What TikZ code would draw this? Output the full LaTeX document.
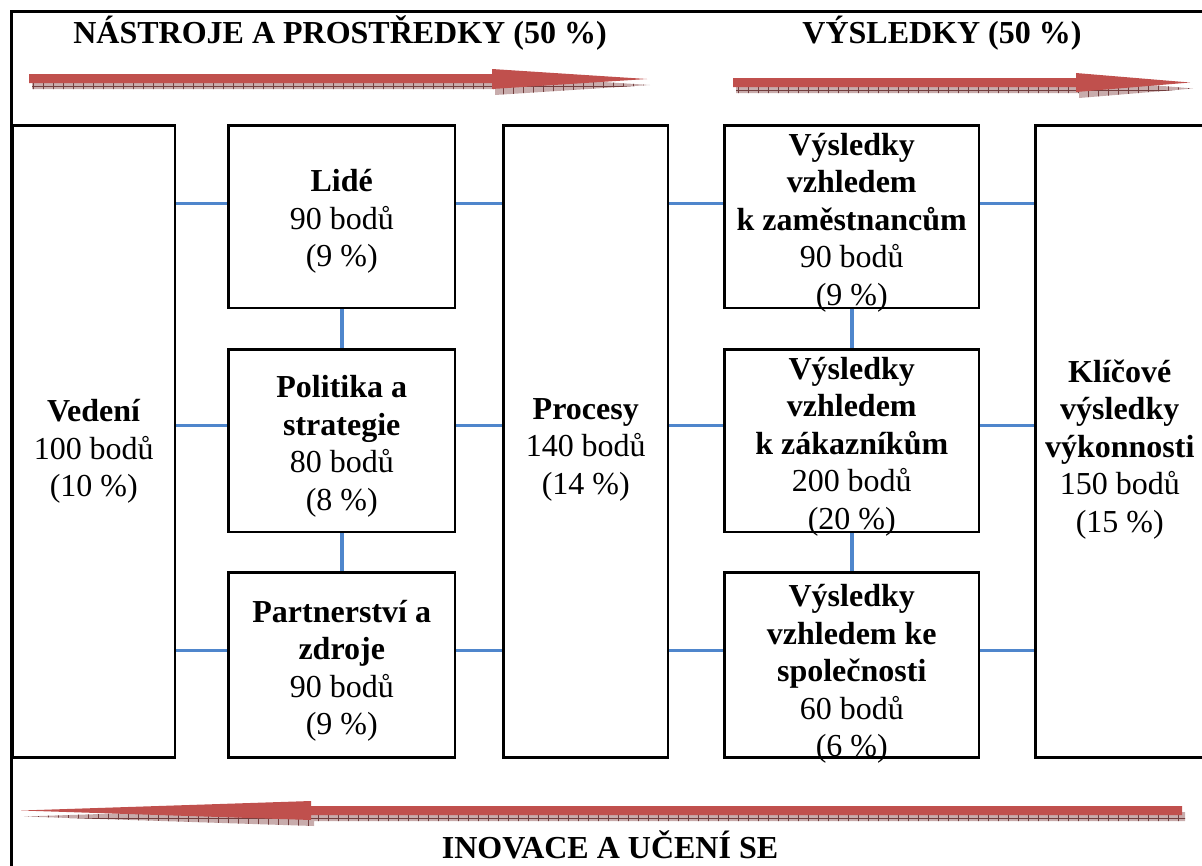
\documentclass[tikz,border=0pt]{standalone}
\usepackage{fontspec}
\setmainfont{Liberation Serif}
\definecolor{arrowred}{RGB}{192,80,77}
\definecolor{shadowfill}{RGB}{200,172,172}
\definecolor{shadowtick}{RGB}{115,62,62}
\definecolor{linkblue}{RGB}{79,134,204}
\tikzset{
  box/.style={draw, line width=2.5pt, outer sep=0pt, inner sep=0pt},
  boxtext/.style={inner sep=0pt, align=center, font=\fontsize{32}{37.5}\selectfont},
  heading/.style={inner sep=0pt, anchor=base, font=\fontsize{32}{37.5}\selectfont\bfseries},
  link/.style={draw=linkblue, line width=3.5pt, shorten <=1.2pt, shorten >=1.2pt},
  frame/.style={line width=3pt},
  arrowbody/.style={fill=arrowred},
  tickline/.style={draw=shadowtick, line width=0.8pt},
  % outlines of the three wide arrows
  arrowA/.style={insert path={(29,74) -- (492,74) -- (492,69) -- (647,79) -- (492,89) -- (492,83) -- (29,83) -- cycle}},
  arrowB/.style={insert path={(733,78) -- (1076,78) -- (1076,73) -- (1190,82.5) -- (1076,92) -- (1076,87) -- (733,87) -- cycle}},
  arrowC/.style={insert path={(1182,806) -- (311,806) -- (311,801) -- (21,810.5) -- (311,820) -- (311,815) -- (1182,815) -- cycle}},
}
\begin{document}
\begin{tikzpicture}[x=1pt,y=-1pt]
\useasboundingbox (0,0) rectangle (1202,865);
\clip (0,0) rectangle (1202,865);

% outer frame
\draw[frame] (11.5,11.5) rectangle (1204,880);

% headings
\node[heading] (hA) at (340,43.5) {NÁSTROJE A PROSTŘEDKY (50 \%)};
\node[heading] (hB) at (942,43.5) {VÝSLEDKY (50 \%)};
\node[heading] (hC) at (610,858) {INOVACE A UČENÍ SE};

% arrow shadows: hatched band with ruler ticks
\begin{scope}[shift={(3,6)}]
  \begin{scope}
    \clip[arrowA];
    \fill[shadowfill] (0,40) rectangle (700,110);
    \foreach \x in {30,40,...,650} \draw[tickline] (\x,60) -- (\x,100);
    \draw[tickline] (29,80.5) -- (650,80.5);
  \end{scope}
  \begin{scope}
    \clip[arrowB];
    \fill[shadowfill] (700,40) rectangle (1202,110);
    \foreach \x in {735,745,...,1195} \draw[tickline] (\x,60) -- (\x,100);
    \draw[tickline] (733,84.5) -- (1195,84.5);
  \end{scope}
  \begin{scope}
    \clip[arrowC];
    \fill[shadowfill] (0,780) rectangle (1202,840);
    \foreach \x in {25,35,...,1185} \draw[tickline] (\x,790) -- (\x,830);
    \draw[tickline] (18,812.5) -- (1185,812.5);
  \end{scope}
\end{scope}

% arrow bodies
\fill[arrowbody, arrowA];
\fill[arrowbody, arrowB];
\fill[arrowbody, arrowC];

% criteria boxes (frames)
\node[box, anchor=north west, minimum width=162.5, minimum height=632] (ved) at (12.5,125.5) {};
\node[box, anchor=north west, minimum width=226.5, minimum height=182.5] (lide) at (228.5,125.5) {};
\node[box, anchor=north west, minimum width=226.5, minimum height=182.5] (pol) at (228.5,349.5) {};
\node[box, anchor=north west, minimum width=226.5, minimum height=185] (part) at (228.5,572.5) {};
\node[box, anchor=north west, minimum width=164.5, minimum height=632] (proc) at (503.5,125.5) {};
\node[box, anchor=north west, minimum width=254.5, minimum height=182.5] (zam) at (724.5,125.5) {};
\node[box, anchor=north west, minimum width=254.5, minimum height=182.5] (zak) at (724.5,349.5) {};
\node[box, anchor=north west, minimum width=254.5, minimum height=185] (spol) at (724.5,572.5) {};
\node[box, anchor=north west, minimum width=168.5, minimum height=632] (klic) at (1035.5,125.5) {};

% criteria texts
\node[boxtext] (vedT) at ([yshift=-10pt]ved.center) {\textbf{Vedení}\\100 bodů\\(10 \%)};
\node[boxtext] (lideT) at ([yshift=-5pt]lide.center) {\textbf{Lidé}\\90 bodů\\(9 \%)};
\node[boxtext] (polT) at ([yshift=-5.5pt]pol.center) {\textbf{Politika a}\\\textbf{strategie}\\80 bodů\\(8 \%)};
\node[boxtext] (partT) at ([yshift=-6pt]part.center) {\textbf{Partnerství a}\\\textbf{zdroje}\\90 bodů\\(9 \%)};
\node[boxtext] (procT) at ([yshift=-8pt]proc.center) {\textbf{Procesy}\\140 bodů\\(14 \%)};
\node[boxtext] (zamT) at ([yshift=-6pt]zam.center)
  {\textbf{Výsledky}\\\textbf{vzhledem}\\\textbf{k zaměstnancům}\\90 bodů\\(9 \%)};
\node[boxtext] (zakT) at ([yshift=-6pt]zak.center)
  {\textbf{Výsledky}\\\textbf{vzhledem}\\\textbf{k zákazníkům}\\200 bodů\\(20 \%)};
\node[boxtext] (spolT) at ([yshift=-9pt]spol.center)
  {\textbf{Výsledky}\\\textbf{vzhledem ke}\\\textbf{společnosti}\\60 bodů\\(6 \%)};
\node[boxtext] (klicT) at ([yshift=-8pt]klic.center)
  {\textbf{Klíčové}\\\textbf{výsledky}\\\textbf{výkonnosti}\\150 bodů\\(15 \%)};

% connector rows
\coordinate (r1) at ([yshift=13.5pt]lide.west);
\coordinate (r2) at ([yshift=15.5pt]pol.west);
\coordinate (r3) at ([yshift=14.5pt]part.west);
\coordinate (s1) at ([yshift=13.5pt]lide.east);
\coordinate (s2) at ([yshift=15.5pt]pol.east);
\coordinate (s3) at ([yshift=14.5pt]part.east);

\foreach \r/\s in {r1/s1, r2/s2, r3/s3} {
  \draw[link] (\r -| ved.east) -- (\r);
  \draw[link] (\s) -- (\s -| proc.west);
  \draw[link] (\s -| proc.east) -- (\s -| zam.west);
  \draw[link] (\s -| zam.east) -- (\s -| klic.west);
}
\draw[link] (lide.south) -- (pol.north);
\draw[link] (pol.south) -- (part.north);
\draw[link] (zam.south) -- (zak.north);
\draw[link] (zak.south) -- (spol.north);
\end{tikzpicture}
\end{document}
